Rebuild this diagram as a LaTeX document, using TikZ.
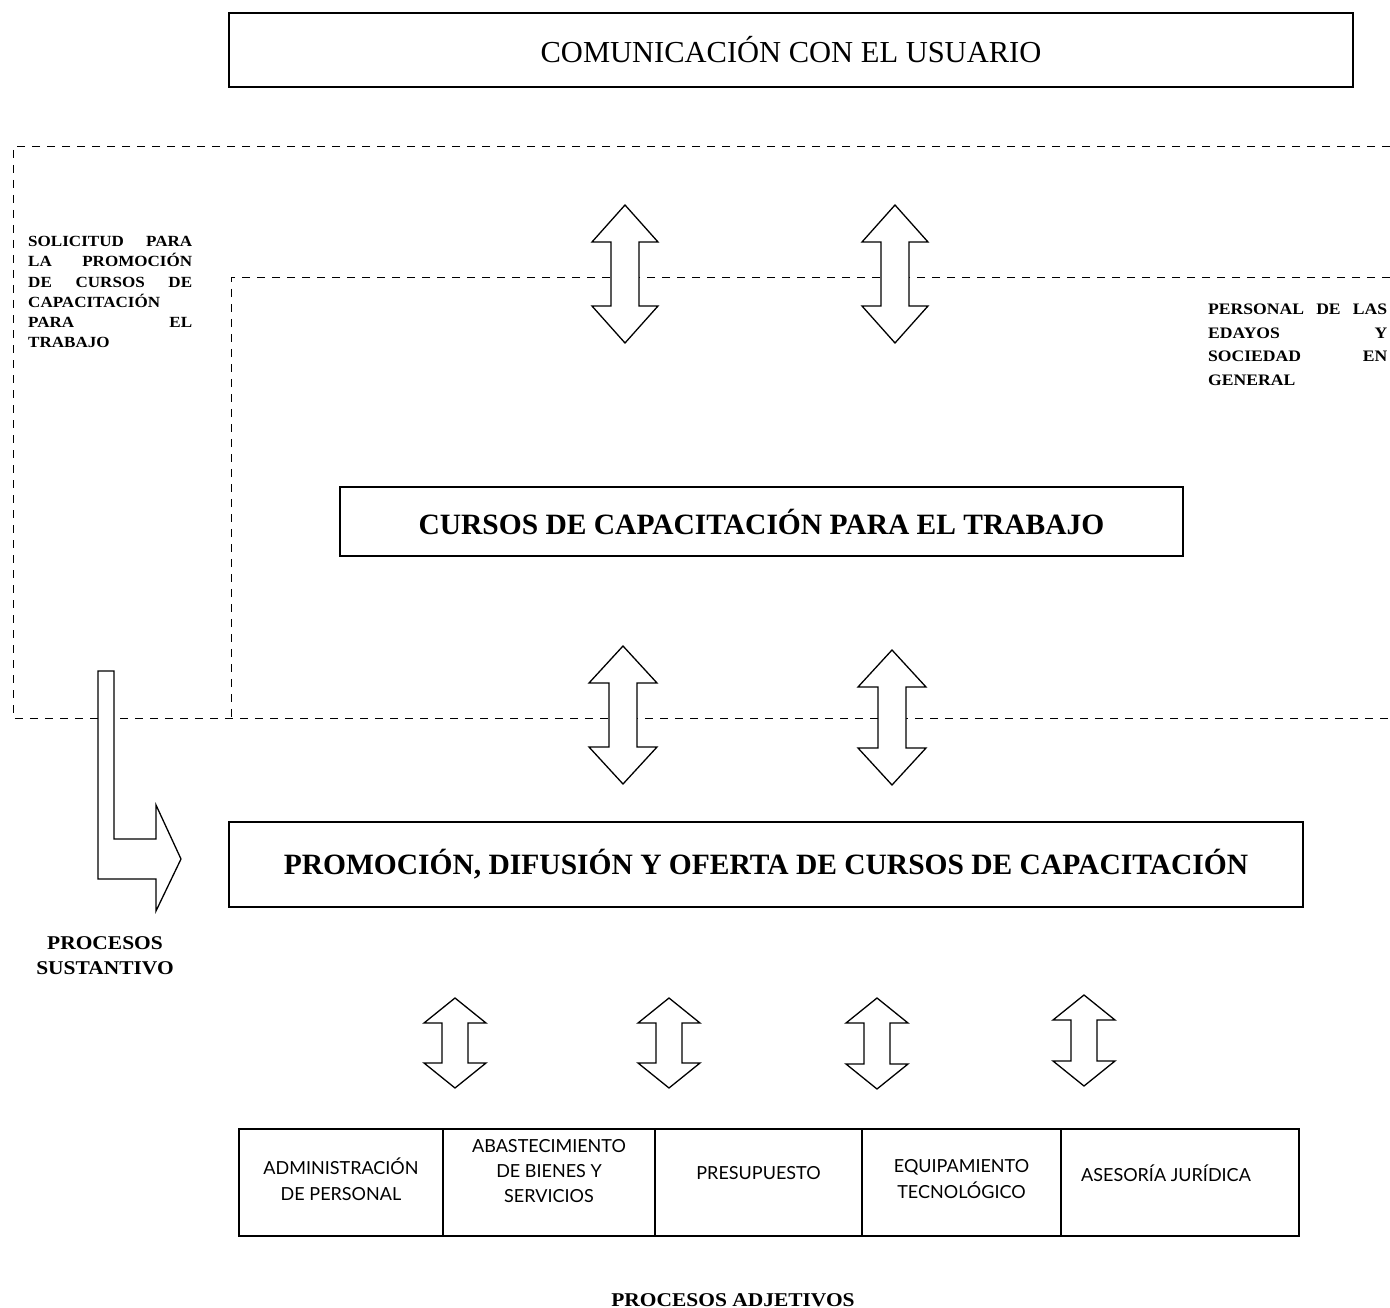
\documentclass[tikz,border=0pt]{standalone}
\usepackage{fontspec}
\setmainfont{Liberation Serif}
\newfontfamily\tabfont{Lato}
\newfontfamily\widefont[FakeStretch=1.1]{Liberation Serif}
\newcommand\dblarr[6]{%
  \draw[arr] (#1,#2) -- ({#1+#4},{#2+#6}) -- ({#1+#5},{#2+#6}) -- ({#1+#5},{#3-#6})
    -- ({#1+#4},{#3-#6}) -- (#1,#3) -- ({#1-#4},{#3-#6}) -- ({#1-#5},{#3-#6})
    -- ({#1-#5},{#2+#6}) -- ({#1-#4},{#2+#6}) -- cycle;}
\tikzset{
  mainbox/.style={draw, line width=1.2pt, rectangle, inner sep=0pt},
  dline/.style={line width=1pt, dash pattern=on 8pt off 7pt},
  arr/.style={draw, fill=white, line width=1.3pt, line join=miter},
  cell/.style={draw, line width=1.2pt, rectangle, inner sep=0pt, minimum height=107pt},
  celltext/.style={font=\tabfont\fontsize{18}{26.5}\selectfont, align=center, inner sep=0pt},
  head/.style={font=\fontsize{29.5}{34}\selectfont\bfseries},
  lab/.style={font=\widefont\bfseries\fontsize{19.5}{25}\selectfont, align=center, inner sep=0pt}
}
\begin{document}
\begin{tikzpicture}[x=1pt,y=-1pt]
\useasboundingbox[fill=white] (0,0) rectangle (1390,1308);

% dashed frames
\coordinate (o1) at (1390,147);
\coordinate (o2) at (13,147);
\coordinate (o3) at (13,718);
\coordinate (o4) at (1390,718);
\coordinate (i1) at (1390,278);
\coordinate (i2) at (231,278);
\coordinate (i3) at (231,718);
\draw[dline] (o1) -- (o2) -- (o3) -- (o4);
\draw[dline] (i1) -- (i2) -- (i3);

% boxes
\node[mainbox, minimum width=1124pt, minimum height=74pt,
      font=\fontsize{30.5}{35}\selectfont] (com) at (791,50) {COMUNICACIÓN CON EL USUARIO};
\node[mainbox, minimum width=843pt, minimum height=69pt, head] (cur) at (761.5,521.5)
      {CURSOS DE CAPACITACIÓN PARA EL TRABAJO};
\node[mainbox, minimum width=1074pt, minimum height=85pt, head] (pro) at (766,864.5)
      {PROMOCIÓN, DIFUSIÓN Y OFERTA DE CURSOS DE CAPACITACIÓN};

% double arrows
\dblarr{625}{205}{343}{33}{14}{37}
\dblarr{895}{205}{343}{33}{14}{37}
\dblarr{623}{646}{784}{34}{14}{37}
\dblarr{892}{650}{785}{34}{14}{37}
\dblarr{455}{998}{1088}{31}{13}{25}
\dblarr{669}{998}{1088}{31}{13}{25}
\dblarr{877}{998}{1089}{31}{13}{25}
\dblarr{1084}{995}{1086}{31}{13}{25}

% L-shaped arrow
\draw[arr] (98,671) -- (114,671) -- (114,839) -- (156,839) -- (156,805) -- (181,859)
  -- (156,911) -- (156,879) -- (98,879) -- cycle;

% side texts
\node[anchor=north west, inner sep=0pt, align=left,
      font=\widefont\bfseries\fontsize{15.5}{20.3}\selectfont] (sol) at (28,236)
  {\makebox[164pt][s]{SOLICITUD PARA}\\
   \makebox[164pt][s]{LA PROMOCIÓN}\\
   \makebox[164pt][s]{DE CURSOS DE}\\
   \makebox[164pt][l]{CAPACITACIÓN}\\
   \makebox[164pt][s]{PARA EL}\\
   \makebox[164pt][l]{TRABAJO}};
\node[anchor=north west, inner sep=0pt, align=left,
      font=\widefont\bfseries\fontsize{16}{23.6}\selectfont] (per) at (1208,304)
  {\makebox[179pt][s]{PERSONAL DE LAS}\\
   \makebox[179pt][s]{EDAYOS Y}\\
   \makebox[179pt][s]{SOCIEDAD EN}\\
   \makebox[179pt][l]{GENERAL}};

\node[lab] (sus) at (105,956) {PROCESOS\\SUSTANTIVO};
\node[lab] (adj) at (733,1300) {PROCESOS ADJETIVOS};

% table
\node[cell, minimum width=204pt] (c1) at (341,1182.5) {};
\node[cell, minimum width=212pt] (c2) at (549,1182.5) {};
\node[cell, minimum width=207pt] (c3) at (758.5,1182.5) {};
\node[cell, minimum width=199pt] (c4) at (961.5,1182.5) {};
\node[cell, minimum width=238pt] (c5) at (1180,1182.5) {};
\node[celltext] (t1) at (341,1179) {ADMINISTRACIÓN\\DE PERSONAL};
\node[celltext, font=\tabfont\fontsize{18}{25}\selectfont] (t2) at (549,1171) {ABASTECIMIENTO\\DE BIENES Y\\SERVICIOS};
\node[celltext] (t3) at (758.5,1173) {PRESUPUESTO};
\node[celltext] (t4) at (961.5,1179) {EQUIPAMIENTO\\TECNOLÓGICO};
\node[celltext] (t5) at (1166,1173) {ASESORÍA JURÍDICA};
\end{tikzpicture}
\end{document}
